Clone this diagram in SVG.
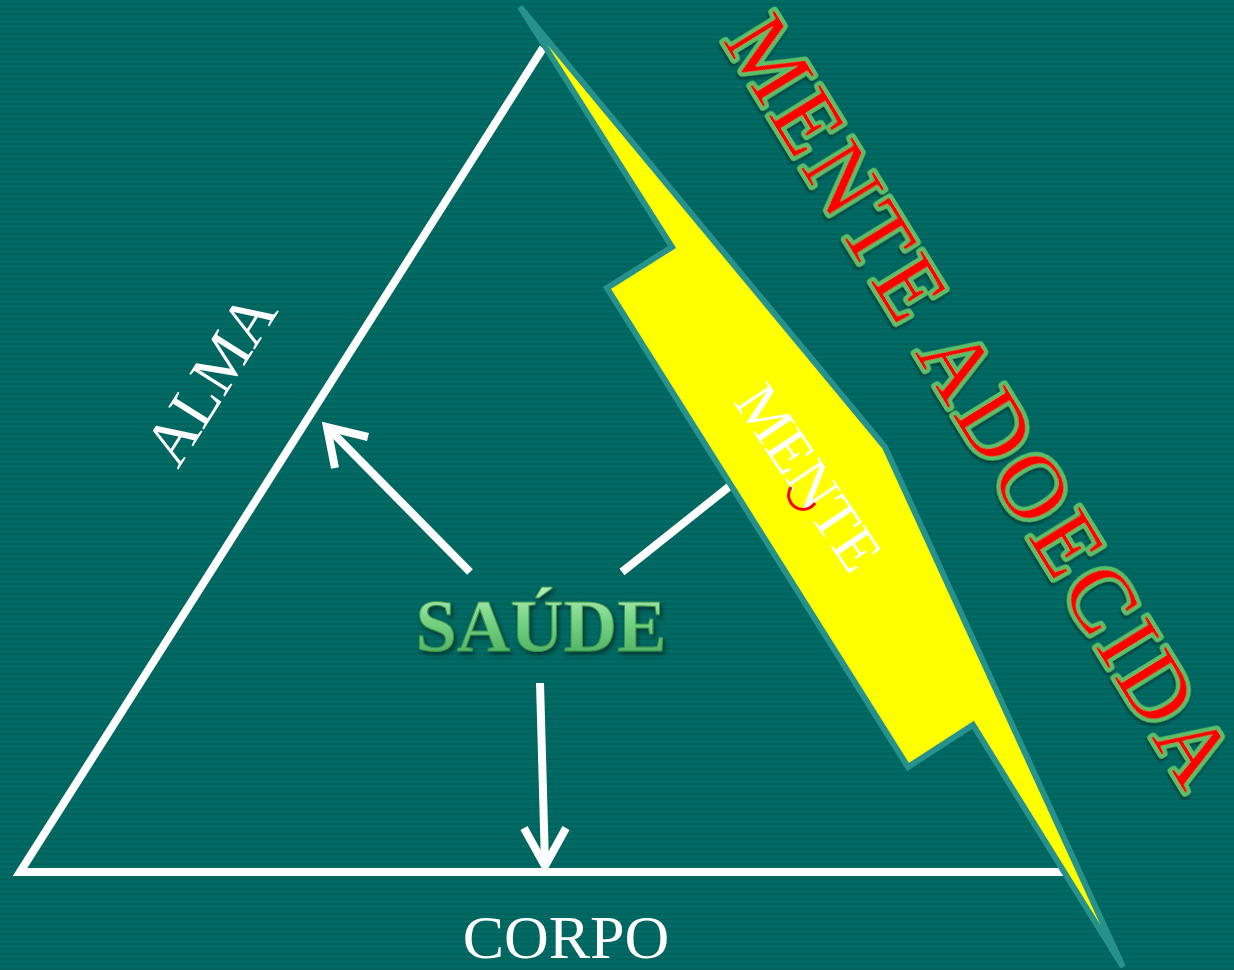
<svg xmlns="http://www.w3.org/2000/svg" width="1234" height="970" viewBox="0 0 1234 970">
<defs>
<pattern id="stripes" width="8" height="5" patternUnits="userSpaceOnUse">
<rect width="8" height="5" fill="#006b65"/>
<rect y="3" width="8" height="2" fill="#03625c"/>
</pattern>
<linearGradient id="gsaude" x1="0" y1="0" x2="0" y2="1">
<stop offset="0" stop-color="#b8f0b8"/>
<stop offset="0.45" stop-color="#74d283"/>
<stop offset="1" stop-color="#44a656"/>
</linearGradient>
<filter id="shadow" x="-10%" y="-10%" width="130%" height="140%">
<feDropShadow dx="2" dy="3" stdDeviation="2" flood-color="#002a28" flood-opacity="0.8"/>
</filter>
<filter id="shadow2" x="-10%" y="-10%" width="130%" height="130%">
<feDropShadow dx="2" dy="2" stdDeviation="1.5" flood-color="#002a28" flood-opacity="0.7"/>
</filter>
<style>
.wl{stroke:#ffffff;stroke-width:8;fill:none;stroke-linecap:butt;stroke-linejoin:miter}
.serif{font-family:"Liberation Serif","Times New Roman",serif}
.white{fill:#ffffff}
</style>
</defs>
<rect width="1234" height="970" fill="url(#stripes)"/>

<g id="triangle">
<polyline class="wl" points="543,48 20,872 1066,872" stroke-linejoin="round"/>
</g>

<g id="connectors">
<line class="wl" x1="470" y1="572" x2="328" y2="428"/>
<polyline class="wl" points="368,437 327,427 335,468"/>
<line class="wl" x1="622" y1="572" x2="745" y2="474"/>
<line class="wl" x1="540" y1="683" x2="545" y2="864"/>
<polyline class="wl" points="524,828 545,866 566,828"/>
</g>

<g id="bolt">
<polygon points="520,7 885,447 1123,967 973,725 908,767 607,288 672,247" fill="#ffff00" stroke="#27918c" stroke-width="6" stroke-linejoin="miter"/>
</g>

<g id="mente">
<text class="serif white" font-size="61" transform="translate(733,402) rotate(56)">MENTE</text>
<path d="M 791,487 A 11 11 0 0 0 815,503" fill="none" stroke="#ff0000" stroke-width="3"/>
</g>

<g id="alma">
<text class="serif white" font-size="64" transform="translate(178,470) rotate(-57.6)">ALMA</text>
</g>

<g id="corpo">
<text class="serif white" font-size="62" x="566" y="958" text-anchor="middle">CORPO</text>
</g>

<g id="saude">
<text class="serif" font-size="74" font-weight="bold" x="541" y="651" text-anchor="middle" fill="url(#gsaude)" stroke="#3f944d" stroke-width="1" filter="url(#shadow)">SAÚDE</text>
</g>

<g id="mente-adoecida">
<text class="serif" font-size="91" letter-spacing="6" fill="#ff0000" stroke="#5cbf68" stroke-width="8" paint-order="stroke" stroke-linejoin="round" filter="url(#shadow2)" transform="translate(722,40) rotate(58.4)">MENTE ADOECIDA</text>
</g>
</svg>
